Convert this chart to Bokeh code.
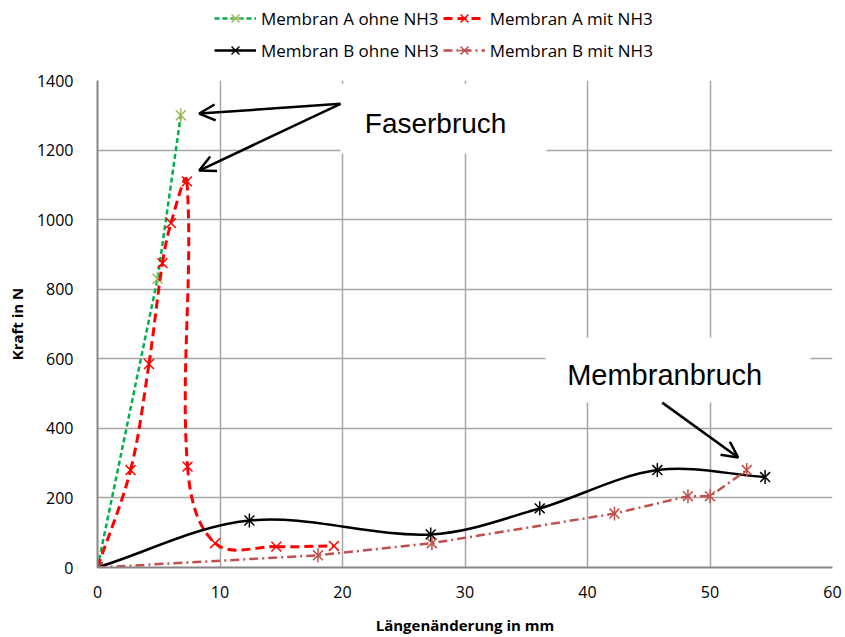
import numpy as np
from bokeh.plotting import figure
from bokeh.layouts import column
from bokeh.models import (Legend, LegendItem, Arrow, OpenHead, Label,
                          BoxAnnotation, Range1d, ColumnDataSource)
from bokeh.embed import file_html
from bokeh.resources import INLINE

# ---------------- data ----------------
x_ticks = [0, 10, 20, 30, 40, 50, 60]
y_ticks = [0, 200, 400, 600, 800, 1000, 1200, 1400]

a_ohne_x = [0, 4.9, 6.8]
a_ohne_y = [0, 830, 1300]

a_mit_x = [0, 2.7, 4.2, 5.3, 6.0, 7.3, 7.35, 9.6, 14.6, 19.3]
a_mit_y = [0, 280, 585, 875, 990, 1110, 290, 70, 60, 62]

b_ohne_x = [0, 12.4, 27.2, 36.1, 45.7, 54.5]
b_ohne_y = [0, 135, 95, 170, 280, 260]

b_mit_x = [0, 18.0, 27.3, 42.2, 48.2, 50.0, 53.0]
b_mit_y = [0, 35, 70, 155, 205, 205, 280]

names = ["Membran A ohne NH3", "Membran A mit NH3",
         "Membran B ohne NH3", "Membran B mit NH3"]
series_x = [a_ohne_x, a_mit_x, b_ohne_x, b_mit_x]
series_y = [a_ohne_y, a_mit_y, b_ohne_y, b_mit_y]

FONT = "Open Sans"

# pixel scale of the frame (used only for curve smoothing direction)
SX = 735 / 60.0
SY = 487 / 1400.0


def smooth(xs, ys):
    """Bezier control points of an Excel-like smoothed line through the points."""
    px = np.asarray(xs, float) * SX
    py = np.asarray(ys, float) * SY
    n = len(px)
    tang = []
    for i in range(n):
        if i == 0:
            tx, ty = px[1] - px[0], py[1] - py[0]
        elif i == n - 1:
            tx, ty = px[-1] - px[-2], py[-1] - py[-2]
        else:
            tx, ty = px[i + 1] - px[i - 1], py[i + 1] - py[i - 1]
        L = np.hypot(tx, ty) or 1.0
        tang.append((tx / L, ty / L))
    d = dict(x0=[], y0=[], x1=[], y1=[], cx0=[], cy0=[], cx1=[], cy1=[])
    for i in range(n - 1):
        seg = np.hypot(px[i + 1] - px[i], py[i + 1] - py[i]) / 3.0
        c0x = px[i] + tang[i][0] * seg
        c0y = py[i] + tang[i][1] * seg
        c1x = px[i + 1] - tang[i + 1][0] * seg
        c1y = py[i + 1] - tang[i + 1][1] * seg
        d["x0"].append(xs[i]); d["y0"].append(ys[i])
        d["x1"].append(xs[i + 1]); d["y1"].append(ys[i + 1])
        d["cx0"].append(c0x / SX); d["cy0"].append(c0y / SY)
        d["cx1"].append(c1x / SX); d["cy1"].append(c1y / SY)
    return ColumnDataSource(d)


styles = [
    dict(lc="#00B050", lw=2.5, dash="5 3", mc="#9BBB59", star=True, smooth=False),
    dict(lc="#FF0000", lw=3, dash="9 5", mc="#FF0000", star=False, smooth=True),
    dict(lc="#000000", lw=2.5, dash="solid", mc="#000000", star=True, smooth=True),
    dict(lc="#C0504D", lw=2.5, dash="9 4 2 4", mc="#C0504D", star=True, smooth=False),
]
MS = 14


def draw_markers(fig, xs, ys, st, visible=True):
    rs = [fig.scatter(xs, ys, marker="x", size=MS, line_color=st["mc"],
                      line_width=1.5, visible=visible)]
    if st["star"]:
        rs.append(fig.scatter(xs, ys, marker="dash", angle=np.pi / 2, size=MS,
                              line_color=st["mc"], line_width=1.5, visible=visible))
    return rs


LEG_H = 66

# ---------------- main plot ----------------
p = figure(width=845, height=637 - LEG_H, x_range=Range1d(0, 60),
           y_range=Range1d(0, 1400), output_backend="svg", toolbar_location=None,
           min_border_left=97, min_border_right=13, min_border_top=80 - LEG_H,
           min_border_bottom=70)
p.outline_line_color = None
p.background_fill_color = "white"

for ax in (p.xaxis, p.yaxis):
    ax.axis_line_color = "#868686"
    ax.axis_line_width = 2
    ax.major_tick_line_color = None
    ax.minor_tick_line_color = None
    ax.major_label_text_font = FONT
    ax.major_label_text_font_size = "16px"
    ax.major_label_text_color = "#000000"
    ax.axis_label_text_font = FONT
    ax.axis_label_text_font_size = "15px"
    ax.axis_label_text_font_style = "bold"
    ax.axis_label_text_color = "#000000"

p.xaxis.ticker = x_ticks
p.yaxis.ticker = y_ticks
p.xaxis.axis_label = "Längenänderung in mm"
p.yaxis.axis_label = "Kraft in N"
p.xaxis.major_label_standoff = 12
p.yaxis.major_label_standoff = 18
p.xaxis.axis_label_standoff = 14
p.yaxis.axis_label_standoff = 7

for g in (p.xgrid, p.ygrid):
    g.grid_line_color = "#A6A6A6"
    g.grid_line_width = 1.5

# text boxes (white background hiding the grid)
p.add_layout(BoxAnnotation(left=19.84, right=36.65, bottom=1190, top=1390,
                           fill_color="white", fill_alpha=1, line_alpha=0,
                           level="underlay"))
p.add_layout(BoxAnnotation(left=36.57, right=58.2, bottom=474, top=661,
                           fill_color="white", fill_alpha=1, line_alpha=0,
                           level="underlay"))

# series
for xs, ys, st in zip(series_x, series_y, styles):
    if st["smooth"]:
        p.bezier(x0="x0", y0="y0", x1="x1", y1="y1", cx0="cx0", cy0="cy0",
                 cx1="cx1", cy1="cy1", source=smooth(xs, ys), line_color=st["lc"],
                 line_width=st["lw"], line_dash=st["dash"])
    else:
        p.line(xs, ys, line_color=st["lc"], line_width=st["lw"], line_dash=st["dash"])
    draw_markers(p, xs, ys, st)

# annotations
for (xs, ys, xe, ye) in [(19.84, 1333, 8.3, 1305), (19.84, 1333, 8.3, 1141),
                         (46.1, 474, 52.3, 316)]:
    p.add_layout(Arrow(end=OpenHead(size=16, line_width=2.5, line_color="black"),
                       x_start=xs, y_start=ys, x_end=xe, y_end=ye,
                       line_width=2.5, line_color="black"))

p.add_layout(Label(x=27.6, y=1276, text="Faserbruch", text_align="center",
                   text_baseline="alphabetic", text_font="Liberation Sans",
                   text_font_size="28px", text_color="black"))
p.add_layout(Label(x=46.3, y=552, text="Membranbruch", text_align="center",
                   text_baseline="alphabetic", text_font="Liberation Sans",
                   text_font_size="29px", text_color="black"))

# ---------------- legend strip ----------------
lg = figure(width=845, height=LEG_H, x_range=Range1d(0, 60), y_range=Range1d(0, 1400),
            output_backend="svg", toolbar_location=None, min_border=0,
            x_axis_location=None, y_axis_location=None)
lg.grid.visible = False
lg.outline_line_color = None

items = []
for name, xs, ys, st in zip(names, series_x, series_y, styles):
    rl = lg.line(xs, ys, line_color=st["lc"], line_width=st["lw"],
                 line_dash=st["dash"], visible=False)
    rm = draw_markers(lg, xs, ys, st, visible=False)
    items.append(LegendItem(label=name, renderers=[rl] + rm))

legend = Legend(items=items, location=(117, LEG_H - 64), orientation="horizontal",
                ncols=2, glyph_width=42, glyph_height=28, label_height=28,
                label_standoff=5, spacing=4, padding=0, margin=0,
                border_line_alpha=0, background_fill_alpha=0,
                label_text_font=FONT, label_text_font_size="17px",
                label_text_color="#000000")
lg.add_layout(legend, "center")

layout = column(lg, p, spacing=0)
open("out.html", "w").write(file_html(layout, INLINE))
